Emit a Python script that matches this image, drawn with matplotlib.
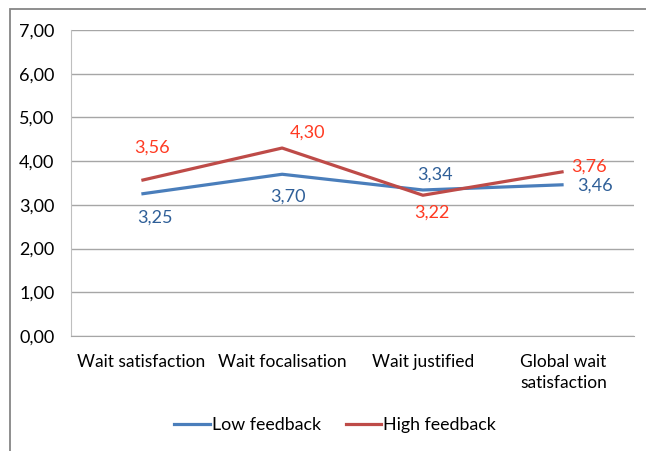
import matplotlib
matplotlib.use("Agg")
import matplotlib.pyplot as plt
from matplotlib.patches import Rectangle
from matplotlib.lines import Line2D

categories = ["Wait satisfaction", "Wait focalisation", "Wait justified",
              "Global wait\nsatisfaction"]
low_feedback = [3.25, 3.70, 3.34, 3.46]
high_feedback = [3.56, 4.30, 3.22, 3.76]
y_ticks = [0, 1, 2, 3, 4, 5, 6, 7]

# label offsets in pixels (dx, dy) relative to the point
low_offsets = [(14, -24), (6, -22), (12, 15), (31, -1)]
high_offsets = [(11, 33), (25, 15), (9, -17), (25, 5)]

plt.rcParams["font.family"] = ["Lato", "DejaVu Sans"]

W, H = 646, 451
fig = plt.figure(figsize=(W / 100, H / 100), dpi=100)
ax = fig.add_axes([71 / W, 1 - 336 / H, (634 - 71) / W, (336 - 30) / H])

x = list(range(len(categories)))
blue, red = "#4A7EBB", "#BE4B48"
ax.plot(x, low_feedback, color=blue, lw=2.3, solid_capstyle="butt",
        label="Low feedback", zorder=3)
ax.plot(x, high_feedback, color=red, lw=2.3, solid_capstyle="butt",
        label="High feedback", zorder=3)

px = 0.72  # pixels -> points at 100 dpi
for xi, v, (dx, dy) in zip(x, low_feedback, low_offsets):
    ax.annotate(f"{v:.2f}".replace(".", ","), (xi, v), xytext=(dx * px, dy * px),
                textcoords="offset points", ha="center", va="center",
                color="#2F5F98", fontsize=13)
for xi, v, (dx, dy) in zip(x, high_feedback, high_offsets):
    ax.annotate(f"{v:.2f}".replace(".", ","), (xi, v), xytext=(dx * px, dy * px),
                textcoords="offset points", ha="center", va="center",
                color="#FF3A22", fontsize=13)

ax.set_xlim(-0.5, len(categories) - 0.5)
ax.set_ylim(0, 7)
ax.set_yticks(y_ticks)
ax.set_yticklabels([f"{t:.2f}".replace(".", ",") for t in y_ticks], fontsize=13)
ax.set_xticks(x)
ax.set_xticklabels(categories, linespacing=1.35, fontsize=12.5)
ax.tick_params(axis="both", length=0, colors="#000000")
ax.tick_params(axis="y", pad=12)
ax.tick_params(axis="x", pad=13)
for lab in ax.get_xticklabels():
    lab.set_verticalalignment("top")

ax.grid(axis="y", color="#A6A6A6", lw=1)
ax.set_axisbelow(True)
for side in ["top", "right"]:
    ax.spines[side].set_visible(False)
ax.spines["left"].set_color("#BFBFBF")
ax.spines["bottom"].set_color("#A6A6A6")

handles = [Line2D([], [], color=blue, lw=2.3), Line2D([], [], color=red, lw=2.3)]
fig.legend(handles, ["Low feedback", "High feedback"], loc="center",
           bbox_to_anchor=(335 / W, 1 - 425 / H), ncol=2, frameon=False,
           fontsize=12.8, handlelength=2.0, handletextpad=0.1, columnspacing=1.4)

# outer chart border, cut off at the right and bottom
fig.add_artist(Rectangle((10 / W, -0.1), 1.2, 1 - 9 / H + 0.1,
                         transform=fig.transFigure, fill=False,
                         edgecolor="#868686", lw=1.3))

fig.savefig("out.png", dpi=100)
